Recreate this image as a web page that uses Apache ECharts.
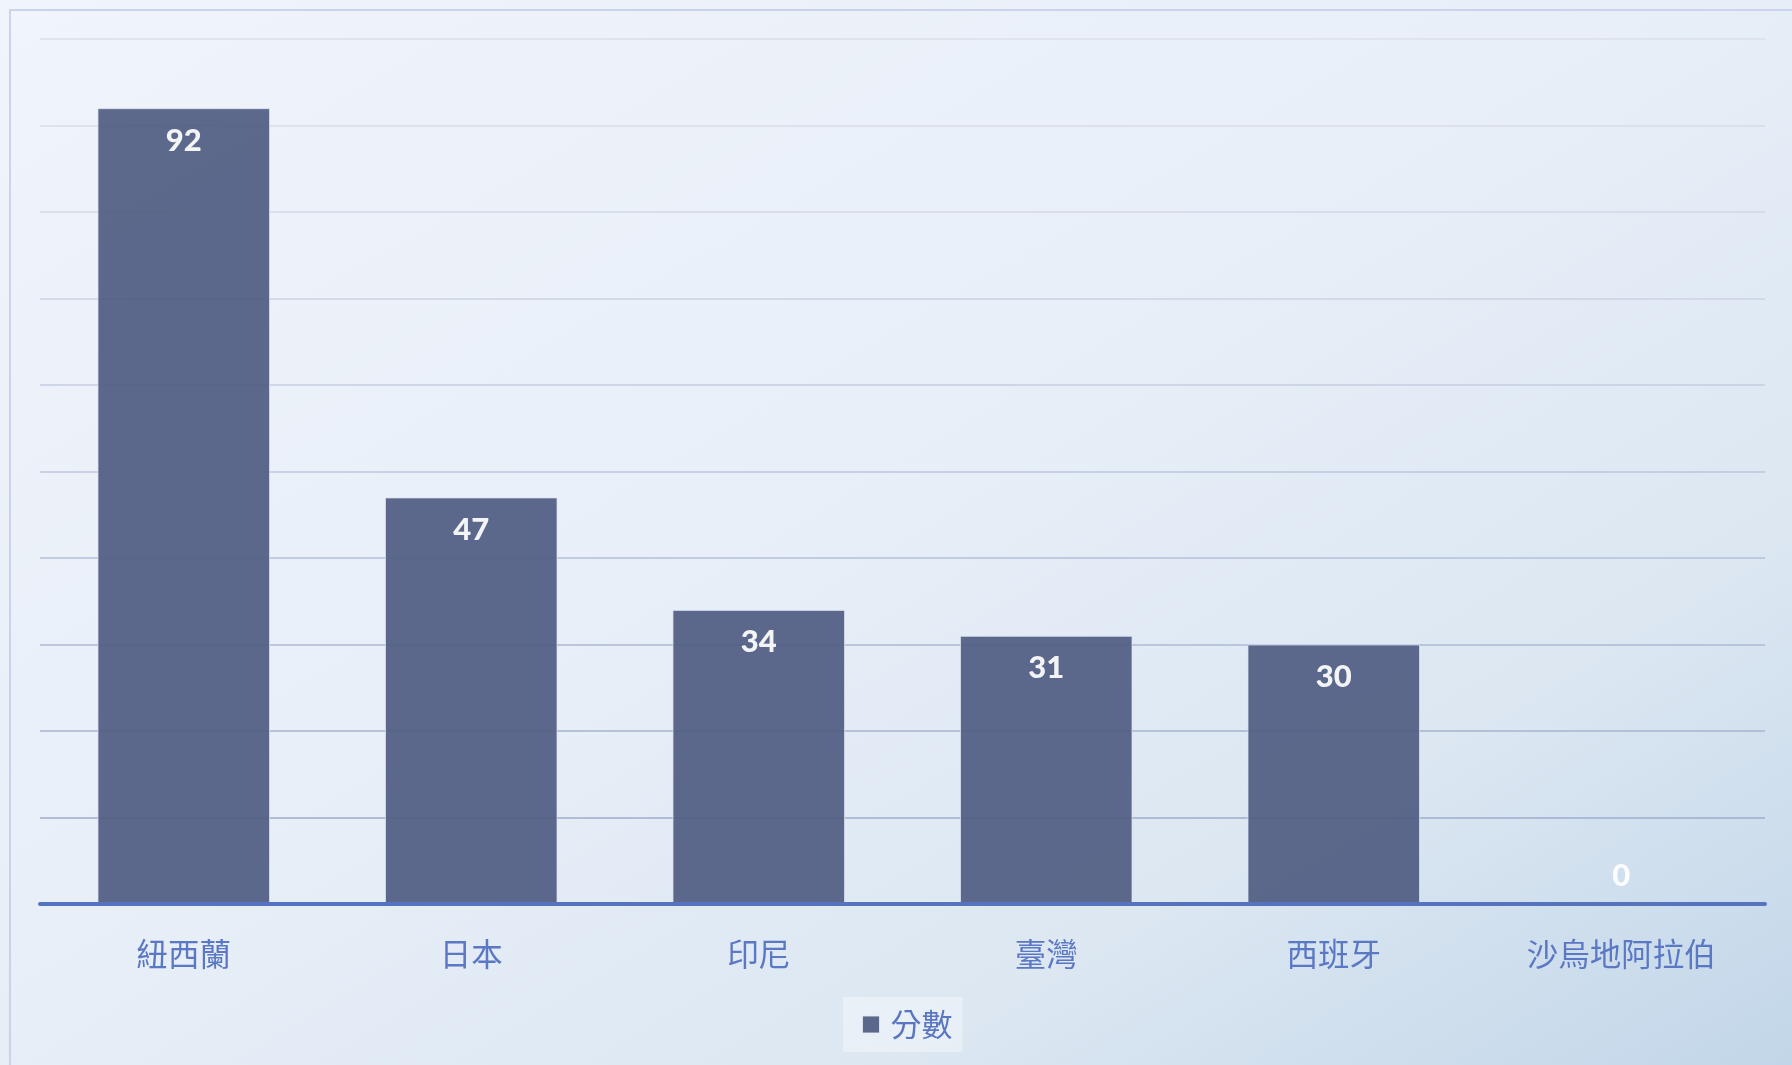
<!DOCTYPE html>
<html>
<head>
<meta charset="utf-8">
<script src="https://cdn.jsdelivr.net/npm/echarts@6/dist/echarts.min.js"></script>
<style>
html,body{margin:0;padding:0;width:1792px;height:1065px;overflow:hidden;
background:linear-gradient(to bottom right,#f0f4fb 0%,#e8eff8 45%,#dce7f2 75%,#c2d6e9 100%);}
#frame{position:absolute;left:9px;top:9px;width:1800px;height:1100px;border-left:2px solid #cbd3ec;border-top:2px solid #cbd3ec;}
#chart{position:absolute;left:0;top:0;width:1792px;height:1065px;}
</style>
</head>
<body>
<div id="frame"></div>
<div id="chart"></div>
<script>
const categories = ['紐西蘭','日本','印尼','臺灣','西班牙','沙烏地阿拉伯'];
const scores = [92, 47, 34, 31, 30, 0];
const seriesName = '分數';
const yMin = 0, yMax = 100, yInterval = 10;
const gridColors = ['#9aa9cb','#9eaccd','#a6b3d2','#adb9d6','#b5c0da','#bdc7dd','#c5cde0','#ccd2e2','#d3d8e4','#d9dde6','#dbdfe7'];

const chart = echarts.init(document.getElementById('chart'), null, {renderer:'canvas'});
const labelFont = 'Lato, "Open Sans", sans-serif';
chart.setOption({
  backgroundColor: 'transparent',
  animation: false,
  grid: {left: 40, right: 27, top: 39, bottom: 161, containLabel: false},
  legend: {
    data: [seriesName], bottom: 13, left: 843,
    backgroundColor: 'rgba(255,255,255,0.35)', padding: [12, 10, 12, 19],
    itemWidth: 17, itemHeight: 17,
    icon: 'rect',
    itemStyle: {borderColor: 'rgba(230,235,245,0.9)', borderWidth: 1},
    textStyle: {color: '#5a76c2', fontSize: 31, padding: [0, 0, 0, 6], fontFamily: '"Noto Sans CJK TC", sans-serif'}
  },
  xAxis: {
    type: 'category', data: categories,
    axisLine: {show: true, lineStyle: {color: '#5673bf', width: 4}},
    axisTick: {show: false},
    axisLabel: {color: '#5b78c4', fontSize: 31.5, margin: 34, fontFamily: '"Noto Sans CJK TC", sans-serif'},
    z: 5
  },
  yAxis: {
    type: 'value', min: yMin, max: yMax, interval: yInterval,
    axisLine: {show: false}, axisTick: {show: false}, axisLabel: {show: false},
    splitLine: {show: true, lineStyle: {color: gridColors, width: 1.5}}
  },
  series: [{
    name: seriesName, type: 'bar', barWidth: '60%',
    itemStyle: {color: '#515e82', opacity: 0.93, borderColor: 'rgba(220,226,240,0.8)', borderWidth: 1},
    label: {
      show: true, position: 'insideTop', distance: 17,
      color: '#ffffff', fontSize: 31, fontWeight: 900, fontFamily: labelFont
    },
    data: scores.map(v => v === 0
      ? {value: v, label: {position: 'top', distance: 12}}
      : v)
  }]
});
</script>
</body>
</html>
